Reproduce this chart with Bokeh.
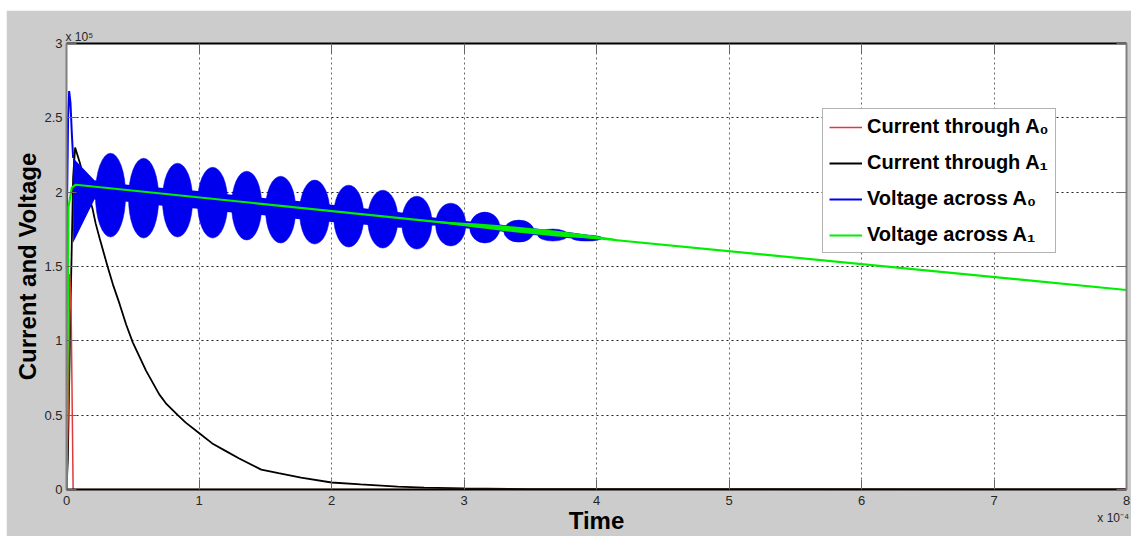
from bokeh.plotting import figure
from bokeh.models import Range1d, FixedTicker, LinearAxis, Legend, LegendItem, ColumnDataSource, Spacer, Title
from bokeh.layouts import column, row
from bokeh.embed import file_html
from bokeh.resources import INLINE

# ---- data (time in units of 1e-4 s, values in units of 1e5) ----
x_ticks = [0, 1, 2, 3, 4, 5, 6, 7, 8]
y_ticks = [0, 0.5, 1, 1.5, 2, 2.5, 3]
y_tick_labels = ["0", "0.5", "1", "1.5", "2", "2.5", "3"]

red_t = [0, 0.015, 0.025, 0.035, 0.05, 8.0]
red_v = [0, 0.6, 1.45, 1.2, 0.0, 0.0]

black_t = [0, 0.01, 0.03, 0.05, 0.065, 0.10, 0.15, 0.196, 0.22, 0.25, 0.31, 0.35, 0.40,
           0.45, 0.50, 0.60, 0.70, 0.75, 0.84, 0.90, 1.0, 1.1, 1.2, 1.3, 1.47, 1.6,
           1.77, 2.0, 2.22, 2.5, 2.7, 3.0, 3.5, 8.0]
black_v = [0, 0.2, 1.2, 2.1, 2.3, 2.2, 2.03, 1.89, 1.79, 1.69, 1.50, 1.38, 1.25,
           1.11, 0.99, 0.80, 0.64, 0.58, 0.50, 0.45, 0.38, 0.31, 0.26, 0.21, 0.134, 0.11,
           0.08, 0.047, 0.034, 0.02, 0.013, 0.008, 0.003, 0.0]

blue_spike_t = [0, 0.004, 0.012, 0.02, 0.03, 0.04, 0.05]
blue_spike_v = [0, 1.92, 2.5, 2.68, 2.6, 2.4, 2.23]

# envelope lobes of the fast oscillation of the voltage across A0
lobe_t = [0.332, 0.582, 0.838, 1.103, 1.360, 1.616, 1.873, 2.130, 2.387, 2.644,
          2.900, 3.157, 3.414, 3.671, 3.927]
lobe_top = [2.262, 2.228, 2.195, 2.168, 2.141, 2.107, 2.081, 2.047, 2.013, 1.973,
            1.926, 1.866, 1.812, 1.752, 1.711]
lobe_bot = [1.698, 1.691, 1.698, 1.691, 1.678, 1.658, 1.651, 1.631, 1.624, 1.617,
            1.638, 1.658, 1.664, 1.671, 1.671]

# narrow band at the nodes between lobes
node_t = [0.05, 0.211, 0.461, 0.710, 0.974, 1.231, 1.488, 1.745, 2.002, 2.258, 2.515,
          2.772, 3.029, 3.285, 3.542, 3.799, 4.033]
node_top = [2.23, 2.08, 2.05, 2.03, 2.01, 1.985, 1.96, 1.94, 1.915, 1.89, 1.865,
            1.83, 1.805, 1.78, 1.755, 1.73, 1.70]
node_bot = [1.66, 1.95, 1.935, 1.91, 1.89, 1.865, 1.845, 1.82, 1.80, 1.78, 1.76,
            1.775, 1.755, 1.735, 1.71, 1.69, 1.688]

green_t = [0, 0.008, 0.015, 0.04, 0.07, 4.0, 8.0]
green_v = [0, 1.0, 1.9, 2.03, 2.05, 1.69, 1.342]

green_band_t = [2.8, 3.1, 3.4, 3.7, 3.95, 4.15]
green_band_top = [1.805, 1.79, 1.768, 1.741, 1.712, 1.685]
green_band_bot = [1.795, 1.76, 1.728, 1.701, 1.688, 1.679]

labels = ["Current through A\u2080", "Current through A\u2081",
          "Voltage across A\u2080", "Voltage across A\u2081"]

# ---- figure ----
GREY = "#cccccc"
p = figure(width=1125, height=526, output_backend="svg", toolbar_location=None,
           x_range=Range1d(0, 8), y_range=Range1d(0, 3),
           min_border_left=60, min_border_right=5, min_border_top=33, min_border_bottom=46)
p.border_fill_color = GREY
p.background_fill_color = "white"
p.outline_line_color = None

for ax in (p.xaxis[0], p.yaxis[0]):
    ax.major_tick_in = 10
    ax.major_tick_out = 0
    ax.minor_tick_line_color = None
    ax.major_label_text_font = "Liberation Sans"
    ax.major_label_text_font_size = "13px"
    ax.major_label_text_color = "#262626"
    ax.axis_label_text_font = "Liberation Sans"
    ax.axis_label_text_font_size = "24px"
    ax.axis_label_text_font_style = "bold"
    ax.axis_label_text_color = "black"

p.xaxis.ticker = FixedTicker(ticks=x_ticks)
p.yaxis.ticker = FixedTicker(ticks=y_ticks)
p.yaxis.major_label_overrides = {t: s for t, s in zip(y_ticks, y_tick_labels)}
p.xaxis.major_label_overrides = {t: str(t) for t in x_ticks}
p.xaxis.axis_line_color = "black"
p.xaxis.axis_line_width = 2
p.xaxis.major_tick_line_color = "#666666"
p.yaxis.axis_line_color = "#808080"
p.yaxis.axis_line_width = 2
p.yaxis.major_tick_line_color = "#666666"
p.yaxis.axis_label = "Current and Voltage"
p.xaxis.major_label_standoff = 6
p.yaxis.major_label_standoff = 4
p.yaxis.axis_label_standoff = 0

# second, line-less axis below: carries the x exponent and the "Time" label side by side
exp_ax = LinearAxis(ticker=FixedTicker(ticks=[7.9]), major_label_overrides={7.9: "x 10\u207b\u2074"},
                    major_label_text_font="Liberation Sans", major_label_text_font_size="12px",
                    major_label_text_color="#262626", major_label_standoff=3,
                    major_tick_in=0, major_tick_out=0, minor_tick_line_color=None,
                    major_tick_line_color=None, axis_line_color=None,
                    axis_label="Time", axis_label_standoff=-21,
                    axis_label_text_font="Liberation Sans", axis_label_text_font_size="24px",
                    axis_label_text_font_style="bold", axis_label_text_color="black")
p.add_layout(exp_ax, "below")

# mirrored inside ticks on the top and right edges (no labels)
top_ax = LinearAxis(ticker=FixedTicker(ticks=x_ticks), major_label_text_font_size="1px",
                    major_label_text_color=None,
                    major_tick_in=10, major_tick_out=0, minor_tick_line_color=None,
                    axis_line_color="black", axis_line_width=2, major_tick_line_color="#666666",
                    major_label_standoff=0)
right_ax = LinearAxis(ticker=FixedTicker(ticks=y_ticks), major_label_text_font_size="1px",
                      major_label_text_color=None,
                      major_tick_in=10, major_tick_out=0, minor_tick_line_color=None,
                      axis_line_color="#808080", axis_line_width=2, major_tick_line_color="#666666",
                      major_label_standoff=0)
p.add_layout(top_ax, "above")
p.add_layout(right_ax, "right")

p.xgrid.grid_line_color = "#666666"
p.xgrid.grid_line_dash = "2 3"
p.ygrid.grid_line_color = "#222222"
p.ygrid.grid_line_dash = "2 3"

BLUE = "#0000ee"
GREEN = "#00ee00"
RED = "#dd3a3a"

r_black = p.line(black_t, black_v, line_color="black", line_width=1.8)
r_red = p.line(red_t, red_v, line_color=RED, line_width=1.5)

lobes = ColumnDataSource(dict(
    t=lobe_t,
    mid=[(a + b) / 2 for a, b in zip(lobe_top, lobe_bot)],
    h=[a - b for a, b in zip(lobe_top, lobe_bot)],
))
p.ellipse(x="t", y="mid", width=0.228, height="h", source=lobes,
          fill_color=BLUE, line_color=BLUE, line_width=0.5)
p.varea(x=node_t, y1=node_bot, y2=node_top, fill_color=BLUE)
r_blue = p.line(blue_spike_t, blue_spike_v, line_color=BLUE, line_width=2)

p.varea(x=green_band_t, y1=green_band_bot, y2=green_band_top, fill_color=GREEN)
r_green = p.line(green_t, green_v, line_color=GREEN, line_width=2.2)

legend = Legend(items=[LegendItem(label=labels[0], renderers=[r_red]),
                       LegendItem(label=labels[1], renderers=[r_black]),
                       LegendItem(label=labels[2], renderers=[r_blue]),
                       LegendItem(label=labels[3], renderers=[r_green])],
                location=(756, 236))
legend.label_text_font = "Liberation Sans"
legend.label_text_font_size = "20px"
legend.label_text_font_style = "bold"
legend.label_text_color = "black"
legend.glyph_width = 33
legend.glyph_height = 22
legend.label_height = 22
legend.spacing = 13
legend.padding = 6
legend.margin = 0
legend.label_standoff = 5
legend.border_line_color = "#666666"
legend.border_line_width = 1
legend.background_fill_alpha = 1.0
p.add_layout(legend, "center")

# y exponent above the plot, at its left edge
p.add_layout(Title(text="x 10\u2075", align="left", offset=-1, standoff=0,
                   text_font="Liberation Sans", text_font_size="12px",
                   text_font_style="normal", text_color="#262626"), "above")

page = column(Spacer(height=10), row(Spacer(width=6), p))
open("out.html", "w").write(file_html(page, INLINE))
